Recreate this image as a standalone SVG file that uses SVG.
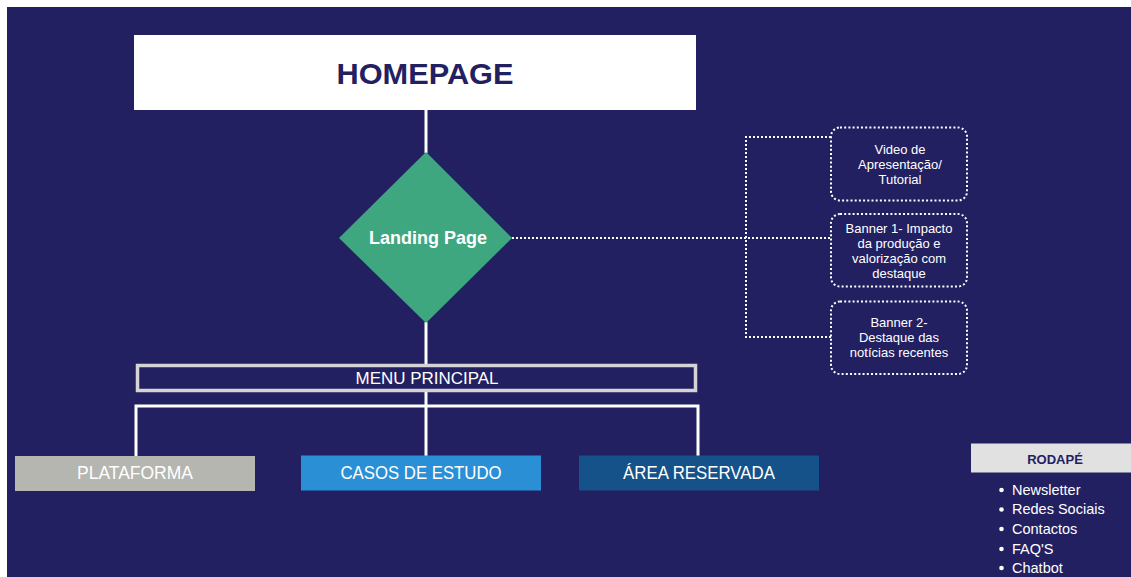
<svg xmlns="http://www.w3.org/2000/svg" width="1131" height="577" viewBox="0 0 1131 577">
  <defs>
    <style>
      .bg { fill: #ffffff; }
      .panel { fill: #232062; }
      .solid { stroke: #ffffff; stroke-width: 3; fill: none; }
      .dotted { stroke: #ffffff; stroke-width: 2; stroke-dasharray: 2 2; fill: none; }
      .sub { fill: none; stroke: #ffffff; stroke-width: 2; stroke-dasharray: 2 2.2; }
      .sans { font-family: "Liberation Sans", Arial, sans-serif; }
      .sub-text { font-family: "Liberation Sans", Arial, sans-serif; font-size: 13px; fill: #ffffff; text-anchor: middle; }
      .cat-text { font-family: "Liberation Sans", Arial, sans-serif; font-size: 18px; fill: #ffffff; text-anchor: middle; }
      .foot-text { font-family: "Liberation Sans", Arial, sans-serif; font-size: 14.5px; fill: #ffffff; }
    </style>
  </defs>

  <!-- page background -->
  <rect class="bg" x="0" y="0" width="1131" height="577"/>
  <rect class="panel" x="7" y="7" width="1124" height="570"/>

  <!-- connectors -->
  <g id="connectors">
    <line class="solid" x1="426" y1="110" x2="426" y2="153"/>
    <line class="solid" x1="426" y1="322" x2="426" y2="365"/>
    <line class="solid" x1="426" y1="392" x2="426" y2="406"/>
    <polyline class="solid" points="136,456 136,406 698,406 698,456"/>
    <line class="solid" x1="426" y1="406" x2="426" y2="456"/>
    <!-- dotted branches to landing page sections -->
    <line class="dotted" x1="512" y1="238" x2="831" y2="238"/>
    <polyline class="dotted" points="831,137 746,137 746,337 831,337"/>
  </g>

  <g id="homepage">
    <rect x="134" y="35" width="562" height="75" fill="#ffffff"/>
    <text class="sans" x="425" y="84" font-size="30" font-weight="bold" fill="#232062" text-anchor="middle" textLength="177" lengthAdjust="spacingAndGlyphs">HOMEPAGE</text>
  </g>

  <g id="landing-page">
    <polygon points="426,152 512,238 426,323 339,238" fill="#3fa77f"/>
    <text class="sans" x="428" y="244" font-size="18" font-weight="bold" fill="#ffffff" text-anchor="middle">Landing Page</text>
  </g>

  <g id="video">
    <rect class="sub" x="831" y="127.5" width="136" height="73" rx="9"/>
    <text class="sub-text" x="900" y="154">Video de</text>
    <text class="sub-text" x="900" y="169">Apresentação/</text>
    <text class="sub-text" x="900" y="184">Tutorial</text>
  </g>

  <g id="banner-1">
    <rect class="sub" x="831" y="214" width="136" height="72.5" rx="9"/>
    <text class="sub-text" x="899" y="232.5">Banner 1- Impacto</text>
    <text class="sub-text" x="899" y="248">da produção e</text>
    <text class="sub-text" x="899" y="263">valorização com</text>
    <text class="sub-text" x="899" y="278">destaque</text>
  </g>

  <g id="banner-2">
    <rect class="sub" x="831" y="301.5" width="136" height="72.5" rx="9"/>
    <text class="sub-text" x="899" y="326.5">Banner 2-</text>
    <text class="sub-text" x="899" y="342">Destaque das</text>
    <text class="sub-text" x="899" y="357">notícias recentes</text>
  </g>

  <g id="menu-principal">
    <rect x="137.5" y="365.5" width="558" height="25" fill="#232062" stroke="#d4d4d4" stroke-width="3.5"/>
    <text class="sans" x="427" y="384" font-size="16.5" fill="#ffffff" text-anchor="middle" textLength="143" lengthAdjust="spacingAndGlyphs">MENU PRINCIPAL</text>
  </g>

  <g id="plataforma">
    <rect x="15" y="456" width="240" height="35" fill="#b6b6b1"/>
    <text class="cat-text" x="135" y="479" textLength="116" lengthAdjust="spacingAndGlyphs">PLATAFORMA</text>
  </g>

  <g id="casos-de-estudo">
    <rect x="301" y="455.5" width="240" height="35" fill="#2b8fd6"/>
    <text class="cat-text" x="421" y="478.5" textLength="161" lengthAdjust="spacingAndGlyphs">CASOS DE ESTUDO</text>
  </g>

  <g id="area-reservada">
    <rect x="579" y="455.5" width="240" height="35" fill="#155289"/>
    <text class="cat-text" x="699" y="478.5" textLength="152" lengthAdjust="spacingAndGlyphs">ÁREA RESERVADA</text>
  </g>

  <g id="rodape">
    <rect x="971" y="443.5" width="160" height="29" fill="#e1e1e1"/>
    <text class="sans" x="1055" y="463.5" font-size="13" font-weight="bold" fill="#232062" text-anchor="middle">RODAPÉ</text>
    <g fill="#ffffff">
      <circle cx="1001.5" cy="490" r="2.3"/>
      <circle cx="1001.5" cy="509.5" r="2.3"/>
      <circle cx="1001.5" cy="529" r="2.3"/>
      <circle cx="1001.5" cy="549" r="2.3"/>
      <circle cx="1001.5" cy="568" r="2.3"/>
    </g>
    <text class="foot-text" x="1012" y="494.5">Newsletter</text>
    <text class="foot-text" x="1012" y="514">Redes Sociais</text>
    <text class="foot-text" x="1012" y="534">Contactos</text>
    <text class="foot-text" x="1012" y="554">FAQ'S</text>
    <text class="foot-text" x="1012" y="573">Chatbot</text>
  </g>
</svg>
